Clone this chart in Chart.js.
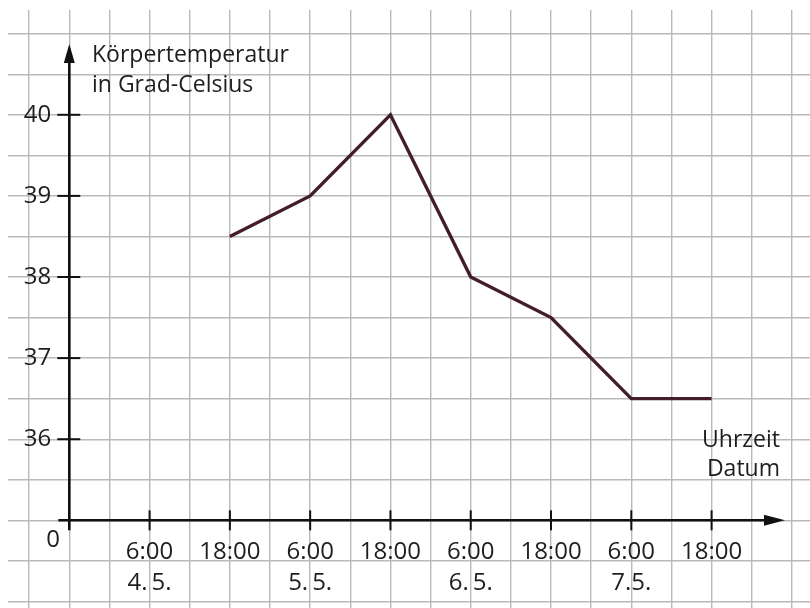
<!DOCTYPE html>
<html>
<head>
<meta charset="utf-8">
<script src="https://cdn.jsdelivr.net/npm/chart.js@4.4.1/dist/chart.umd.min.js"></script>
<style>
  html, body { margin: 0; padding: 0; background: #ffffff; }
  #wrap { position: relative; width: 810px; height: 608px; }
</style>
</head>
<body>
<div id="wrap"><canvas id="c" width="810" height="608"></canvas></div>
<script>
// ---- data (x = hours after 18:00 on 3.5.) ----
const hours = [24, 36, 48, 60, 72, 84, 96];
const temperatures = [38.5, 39, 40, 38, 37.5, 36.5, 36.5];
const timeTicks = [12, 24, 36, 48, 60, 72, 84, 96];
const timeLabels = [["6:00", "4.\u20095."], ["18:00"], ["6:00", "5.\u20095."], ["18:00"], ["6:00", "6.\u20095."], ["18:00"], ["6:00", "7.5."], ["18:00"]];
const tempTicks = [36, 37, 38, 39, 40];
const tempLabels = ["36", "37", "38", "39", "40"];
const originLabel = "0";
const yTitle = ["Körpertemperatur", "in Grad-Celsius"];
const xTitle = ["Uhrzeit", "Datum"];

// ---- scale ranges (axis break: value 35 stands for the origin "0") ----
const X_MIN = -9.162, X_MAX = 110.71;
const Y_MIN = 33.919, Y_MAX = 41.292;
const Y_ORIGIN = 35;
const gridX = []; for (let v = -6; v <= 108; v += 6) gridX.push(v);
const gridY = []; for (let v = 34; v <= 41; v += 0.5) gridY.push(v);

const FONT = "'Open Sans', 'Noto Sans', sans-serif";
const TEXT = '#1e1e1e';
const AXIS = '#111111';

const zeroPad = s => { s.paddingLeft = 0; s.paddingRight = 0; s.paddingTop = 0; s.paddingBottom = 0; };

const axesPlugin = {
  id: 'axesPlugin',
  beforeDatasetsDraw(chart) {
    const ctx = chart.ctx;
    const xs = chart.scales.x, ys = chart.scales.y;
    const x0 = xs.getPixelForValue(0), y0 = ys.getPixelForValue(Y_ORIGIN);
    ctx.save();
    ctx.strokeStyle = AXIS; ctx.fillStyle = AXIS; ctx.lineWidth = 2.6; ctx.lineCap = 'butt';
    // y axis
    ctx.beginPath(); ctx.moveTo(x0, y0 + 10); ctx.lineTo(x0, 60); ctx.stroke();
    ctx.beginPath(); ctx.moveTo(x0, 44); ctx.lineTo(x0 - 5.5, 63); ctx.lineTo(x0 + 5.5, 63); ctx.closePath(); ctx.fill();
    // x axis
    ctx.beginPath(); ctx.moveTo(x0 - 11, y0); ctx.lineTo(766, y0); ctx.stroke();
    ctx.beginPath(); ctx.moveTo(785, y0); ctx.lineTo(764, y0 - 5.5); ctx.lineTo(764, y0 + 5.5); ctx.closePath(); ctx.fill();
    // tick marks
    ctx.lineWidth = 2;
    timeTicks.forEach(v => {
      const px = xs.getPixelForValue(v);
      ctx.beginPath(); ctx.moveTo(px, y0 - 10); ctx.lineTo(px, y0 + 10); ctx.stroke();
    });
    tempTicks.forEach(v => {
      const py = ys.getPixelForValue(v);
      ctx.beginPath(); ctx.moveTo(x0 - 12, py); ctx.lineTo(x0 + 11, py); ctx.stroke();
    });
    // texts
    ctx.fillStyle = TEXT;
    ctx.font = '23px ' + FONT;
    ctx.textBaseline = 'alphabetic';
    ctx.textAlign = 'left';
    ctx.fillText(yTitle[0], 92, 62);
    ctx.fillText(yTitle[1], 92, 92);
    ctx.textAlign = 'right';
    ctx.fillText(xTitle[0], 780, 447);
    ctx.fillText(xTitle[1], 780, 476);
    ctx.font = '24px ' + FONT;
    ctx.textAlign = 'center'; ctx.textBaseline = 'middle';
    ctx.fillText(originLabel, 53, 540);
    ctx.restore();
  }
};

new Chart(document.getElementById('c'), {
  type: 'line',
  data: {
    datasets: [{
      data: hours.map((h, i) => ({ x: h, y: temperatures[i] })),
      borderColor: '#431d2b',
      borderWidth: 3.4,
      pointRadius: 0,
      tension: 0,
      fill: false,
      xAxisID: 'x',
      yAxisID: 'y'
    }]
  },
  options: {
    responsive: false,
    animation: false,
    layout: { padding: { left: 8, top: 10, right: 0, bottom: 0 } },
    plugins: { legend: { display: false }, tooltip: { enabled: false }, title: { display: false } },
    scales: {
      x: {
        type: 'linear', position: 'bottom', min: X_MIN, max: X_MAX,
        afterBuildTicks: s => { s.ticks = gridX.map(v => ({ value: v })); },
        ticks: { display: false },
        grid: { color: '#b9b9b9', lineWidth: 1.4, drawTicks: false },
        border: { display: false }
      },
      y: {
        type: 'linear', position: 'left', min: Y_MIN, max: Y_MAX,
        afterBuildTicks: s => { s.ticks = gridY.map(v => ({ value: v })); },
        ticks: { display: false },
        grid: { color: '#b9b9b9', lineWidth: 1.4, drawTicks: false },
        border: { display: false }
      },
      xAxis: {
        type: 'linear', axis: 'x', position: { y: Y_ORIGIN }, min: X_MIN, max: X_MAX,
        afterBuildTicks: s => { s.ticks = timeTicks.map(v => ({ value: v })); },
        afterFit: zeroPad,
        ticks: {
          autoSkip: false, maxRotation: 0, minRotation: 0, padding: 16,
          color: TEXT, font: { family: FONT, size: 24, lineHeight: 1.3 },
          callback: (v, i) => timeLabels[i]
        },
        grid: { display: false, drawOnChartArea: false, drawTicks: false },
        border: { display: false }
      },
      yAxis: {
        type: 'linear', axis: 'y', position: { x: -2.7 }, min: Y_MIN, max: Y_MAX,
        afterBuildTicks: s => { s.ticks = tempTicks.map(v => ({ value: v })); },
        afterFit: zeroPad,
        ticks: {
          autoSkip: false, padding: 0,
          color: TEXT, font: { family: FONT, size: 24 },
          callback: (v, i) => tempLabels[i]
        },
        grid: { display: false, drawOnChartArea: false, drawTicks: false },
        border: { display: false }
      }
    }
  },
  plugins: [axesPlugin]
});
</script>
</body>
</html>
